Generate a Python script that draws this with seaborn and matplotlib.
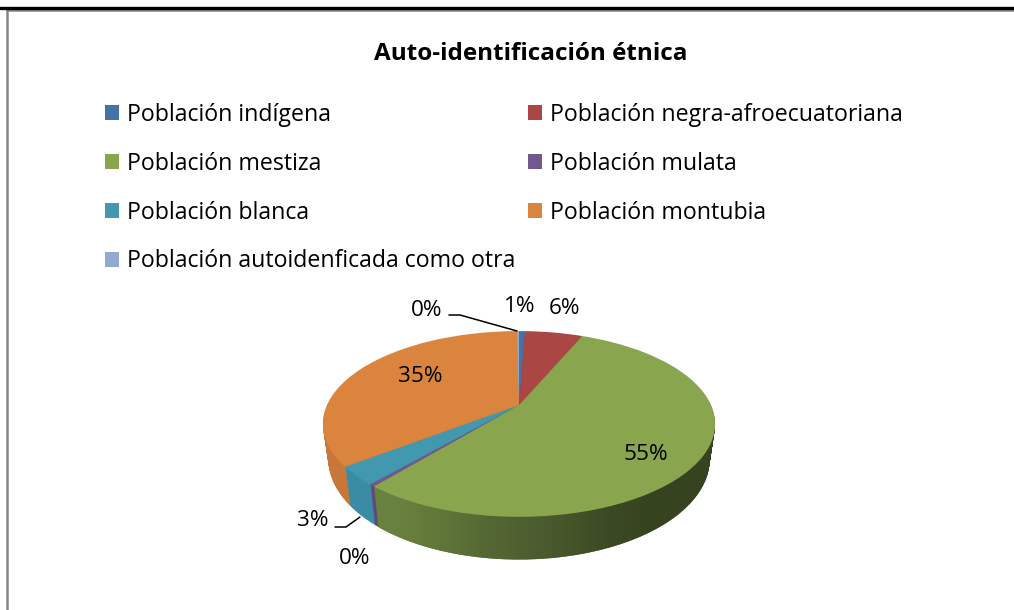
import matplotlib
matplotlib.use("Agg")
import matplotlib.pyplot as plt
import numpy as np
import seaborn as sns
from matplotlib.patches import Patch
from matplotlib.path import Path
from matplotlib.transforms import Transform

categories = ['Población indígena', 'Población negra-afroecuatoriana', 'Población mestiza',
              'Población mulata', 'Población blanca', 'Población montubia',
              'Población autoidenficada como otra']
values = [0.6, 5.8, 54.6, 0.4, 3.2, 35.2, 0.2]
pct_labels = ['1%', '6%', '55%', '0%', '3%', '35%', '0%']
top_colors = ['#4572A7', '#AA4643', '#89A54E', '#71588F', '#4198AF', '#DB843D', '#93A9CF']
wall_colors = ['#3B6290', '#8E3A38', '#5E7437', '#5F4A78', '#3A8CA4', '#C8773A', '#7D90B0']
green_wall = ['#6A8240', '#62783A', '#566A34', '#4E6030', '#46562A', '#3C4A24', '#36431F', '#36431F']

# pie geometry, in pixels of the picture
CX, CY = 519, 405
A, B, K = 89, 192, 0.204
DEPTH = 34
SHRINK = 0.028  # lower rim is a bit narrower than the top one


class Tilt(Transform):
    # looks at the unit pie from above, the far side comes out smaller
    input_dims = output_dims = 2

    def __init__(self, drop=0):
        super().__init__()
        self.drop = drop

    def transform_non_affine(self, xy):
        xy = np.asarray(xy)
        w = 1 + K * xy[:, 1]
        b = B * (1 - SHRINK * self.drop / DEPTH)
        return np.column_stack([CX + b * xy[:, 0] / w,
                                CY + (self.drop - A * xy[:, 1]) / w])


sns.set_theme(style="white")
plt.rcParams['font.family'] = ['Open Sans', 'DejaVu Sans']

fig = plt.figure(figsize=(10.14, 6.10), dpi=100)
ax = fig.add_axes([0, 0, 1, 1])


def draw_pie(colors, drop, z):
    wedges, _ = ax.pie(values, colors=sns.color_palette(colors), startangle=90,
                       counterclock=False, wedgeprops={'linewidth': 0, 'zorder': z})
    for w in wedges:
        w.set_transform(Tilt(drop) + ax.transData)
    return wedges


# side wall: same pie stacked downwards
green_paths = []
for drop in np.arange(DEPTH, 0, -1.0):
    wedges = draw_pie(wall_colors, drop, 2)
    green = wedges[2]
    green_paths.append(Tilt(drop).transform_path(green.get_path()))

# top face
draw_pie(top_colors, 0, 4)

# green wall has a left to right shading
grad = np.array([matplotlib.colors.to_rgb(c) for c in green_wall])[np.newaxis, :, :]
im = ax.imshow(grad, extent=(372, 716, 570, 400), aspect='auto', interpolation='bilinear', zorder=3)
im.set_clip_path(Path.make_compound_path(*green_paths), transform=ax.transData)

ax.set_aspect('auto')
ax.set_xlim(0, 1014)
ax.set_ylim(610, 0)
ax.axis('off')

# chart frame
ax.axhline(7.5, color='black', lw=2.4, zorder=6)
ax.plot([7, 1014], [10, 10], color='#868686', lw=1.8, zorder=5)
ax.plot([7, 7], [10, 610], color='#868686', lw=1.8, zorder=5)

ax.text(531, 54, 'Auto-identificación étnica', ha='center', va='center',
        fontsize=17.5, fontweight='bold', color='black')

# legend goes row by row in the picture, matplotlib fills by column
order = [0, 2, 4, 6, 1, 3, 5]
handles = [Patch(color=top_colors[i], linewidth=0) for i in order]
ax.legend(handles, [categories[i] for i in order], ncol=2, frameon=False,
          loc='upper left', bbox_to_anchor=(105 / 1014, 1 - 103 / 610),
          fontsize=16.7, labelcolor='black', handlelength=0.6, handleheight=0.6,
          handletextpad=0.35, labelspacing=1.07, columnspacing=0.55,
          borderpad=0, borderaxespad=0)

# data labels: indigena, negra, mestiza, mulata, blanca, montubia, otra
label_x = [520, 565, 646, 355, 313, 420, 427]
label_y = [307, 308, 455, 559, 520, 377, 310]
for s, lx, ly in zip(pct_labels, label_x, label_y):
    ax.text(lx, ly, s, ha='center', va='center', fontsize=16.2, color='black', zorder=7)

# leader lines
ax.plot([449, 460, 517], [315, 315, 331], color='black', lw=1.1, zorder=7)
ax.plot([335, 346, 360], [527, 527, 517], color='black', lw=1.1, zorder=7)

fig.savefig('out.png', dpi=100)
plt.close(fig)
